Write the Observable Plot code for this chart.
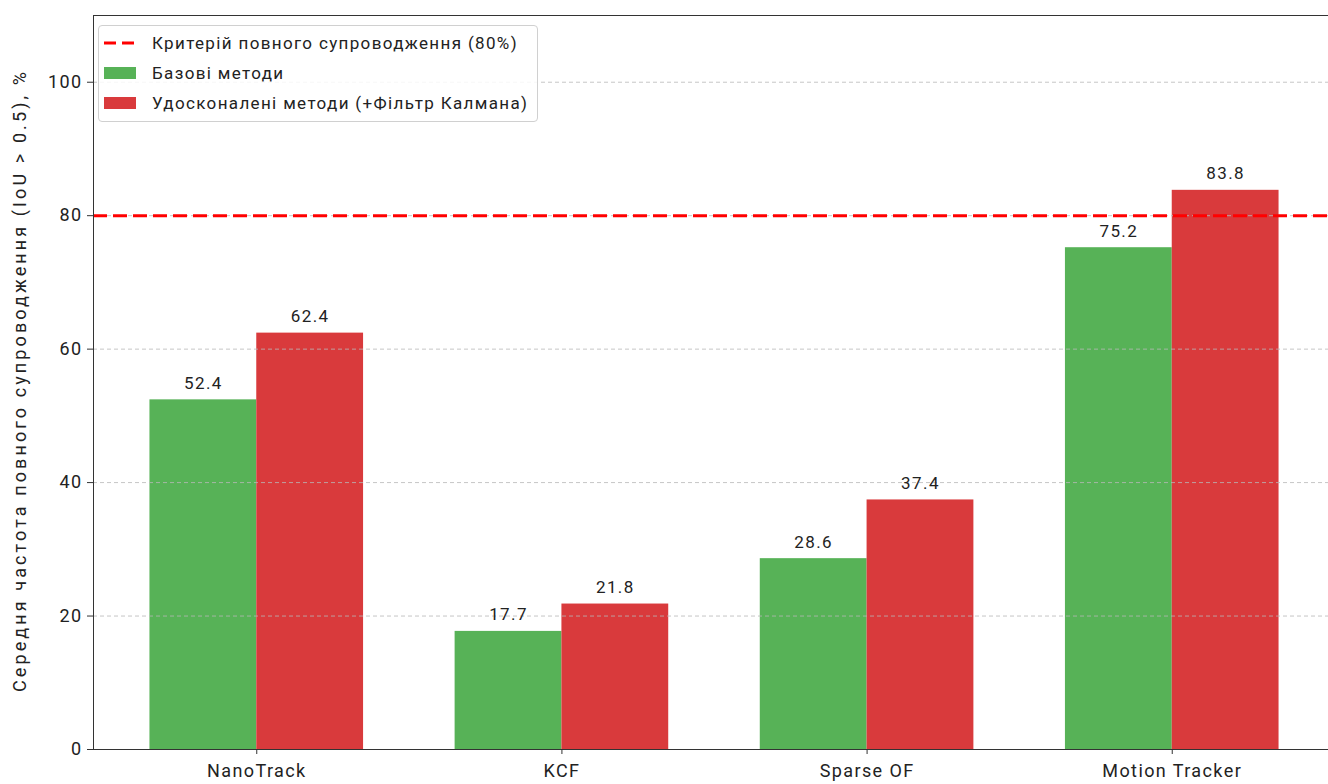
<!DOCTYPE html>
<html>
<head>
<meta charset="utf-8">
<script src="https://cdn.jsdelivr.net/npm/d3@7"></script>
<script src="https://cdn.jsdelivr.net/npm/@observablehq/plot@0.6"></script>
<style>
  html, body { margin: 0; padding: 0; background: #fff; overflow: hidden; }
  #wrap { position: relative; width: 1328px; height: 784px; overflow: hidden; }
  #wrap > svg { max-width: none !important; }
  #legend {
    position: absolute; left: 98px; top: 25px; width: 440px; height: 97px;
    box-sizing: border-box; border: 1px solid #d0d0d0; border-radius: 4px;
    background: rgba(255,255,255,0.85); font-family: Roboto, sans-serif;
    font-size: 17px; letter-spacing: 1.35px; color: #222;
  }
  .item { position: absolute; left: 0; width: 100%; height: 24px; }
  .sym { position: absolute; left: 5px; top: 0; }
  .lbl { position: absolute; left: 53px; top: 2px; white-space: nowrap; line-height: 20px; }
</style>
</head>
<body>
<div id="wrap"></div>
<script>
const categories = ["NanoTrack", "KCF", "Sparse OF", "Motion Tracker"];
const baseValues = [52.4, 17.7, 28.6, 75.2];
const kalmanValues = [62.4, 21.8, 37.4, 83.8];
const threshold = 80;
const yTicks = [0, 20, 40, 60, 80, 100];
const seriesNames = ["Базові методи", "Удосконалені методи (+Фільтр Калмана)"];
const thresholdLabel = "Критерій повного супроводження (80%)";
const yLabel = "Середня частота повного супроводження (IoU > 0.5), %";

const green = "#57b257";
const red = "#d93a3c";
const barW = 0.35;

const base = categories.map((c, i) => ({i, v: baseValues[i]}));
const kal = categories.map((c, i) => ({i, v: kalmanValues[i]}));

const plot = Plot.plot({
  width: 1336,
  height: 784,
  marginLeft: 93,
  marginRight: 1,
  marginTop: 15,
  marginBottom: 35,
  style: {fontFamily: "Roboto, sans-serif", fontSize: "17px", color: "#222", background: "white", maxWidth: "none"},
  x: {domain: [-0.535, 3.535], axis: null},
  y: {domain: [0, 110], axis: null},
  marks: [
    Plot.rectY(base, {x1: d => d.i - barW, x2: d => d.i, y1: 0, y2: d => d.v, fill: green}),
    Plot.rectY(kal, {x1: d => d.i, x2: d => d.i + barW, y1: 0, y2: d => d.v, fill: red}),
    Plot.ruleY(yTicks.slice(1), {stroke: "#b8b8b8", strokeDasharray: "4,3", strokeWidth: 1, strokeOpacity: 0.8}),
    Plot.ruleY([threshold], {stroke: "#ff0000", strokeWidth: 3, strokeDasharray: "14,6"}),
    Plot.text(base, {x: d => d.i - barW / 2, y: d => d.v, text: d => d.v.toFixed(1), lineAnchor: "bottom", dy: -11, fontSize: 17, fill: "#222"}),
    Plot.text(kal, {x: d => d.i + barW / 2, y: d => d.v, text: d => d.v.toFixed(1), lineAnchor: "bottom", dy: -11, fontSize: 17, fill: "#222"}),
    Plot.frame({stroke: "#333", strokeWidth: 1}),
    Plot.axisY({ticks: yTicks, tickSize: 6, tickPadding: 5, fontSize: 18, label: null, stroke: "#333"}),
    Plot.axisX({ticks: [0, 1, 2, 3], tickFormat: i => categories[i], tickSize: 5, tickPadding: 10, fontSize: 18, label: null, stroke: "#333"}),
    Plot.text([yLabel], {frameAnchor: "left", textAnchor: "middle", rotate: -90, dx: -73, dy: -2, fontSize: 18, fill: "#222", text: d => d})
  ]
});

const wrap = document.getElementById("wrap");
wrap.appendChild(plot);

// letter spacing for axis labels, bar labels and y label (wide reference font)
plot.querySelectorAll("text").forEach(t => {
  if (t.textContent === yLabel) t.style.letterSpacing = "3.1px";
  else t.style.letterSpacing = "1.4px";
});

const legend = document.createElement("div");
legend.id = "legend";
const items = [
  {label: thresholdLabel, kind: "line", color: "#ff0000"},
  {label: seriesNames[0], kind: "rect", color: green},
  {label: seriesNames[1], kind: "rect", color: red}
];
const ns = "http://www.w3.org/2000/svg";
items.forEach((it, k) => {
  const row = document.createElement("div");
  row.className = "item";
  row.style.top = (5 + k * 30) + "px";
  const sym = document.createElementNS(ns, "svg");
  sym.setAttribute("class", "sym");
  sym.setAttribute("width", "32");
  sym.setAttribute("height", "24");
  if (it.kind === "line") {
    const l = document.createElementNS(ns, "line");
    l.setAttribute("x1", "0"); l.setAttribute("x2", "32");
    l.setAttribute("y1", "12"); l.setAttribute("y2", "12");
    l.setAttribute("stroke", it.color);
    l.setAttribute("stroke-width", "3");
    l.setAttribute("stroke-dasharray", "12,6");
    sym.appendChild(l);
  } else {
    const r = document.createElementNS(ns, "rect");
    r.setAttribute("x", "0"); r.setAttribute("y", "6");
    r.setAttribute("width", "32"); r.setAttribute("height", "12");
    r.setAttribute("fill", it.color);
    sym.appendChild(r);
  }
  const lbl = document.createElement("div");
  lbl.className = "lbl";
  lbl.textContent = it.label;
  row.appendChild(sym);
  row.appendChild(lbl);
  legend.appendChild(row);
});
wrap.appendChild(legend);
</script>
</body>
</html>
